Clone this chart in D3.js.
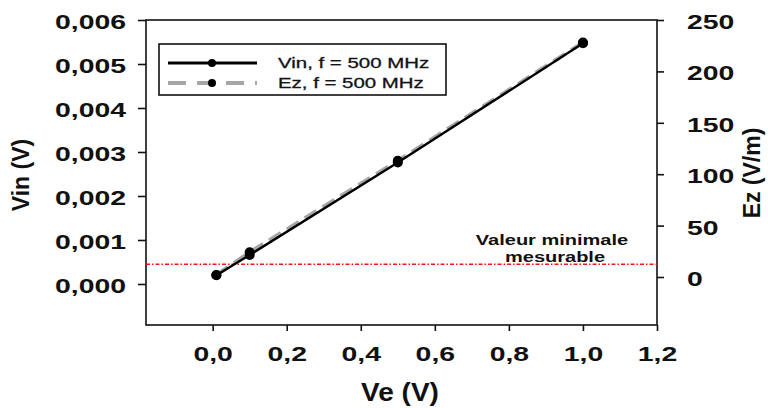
<!DOCTYPE html>
<html>
<head>
<meta charset="utf-8">
<script src="https://cdn.jsdelivr.net/npm/d3@7"></script>
<style>
  html, body { margin: 0; padding: 0; background: #fff; }
  svg { display: block; }
  text { font-family: "Liberation Sans", Arial, sans-serif; fill: #111; }
</style>
</head>
<body>
<svg id="chart" width="768" height="408"></svg>
<script>
// ---- data ----
const ve = [0.01, 0.1, 0.5, 1.0];               // Ve (V)
const vin = [0.0002, 0.00066, 0.00276, 0.00547]; // Vin (V), f = 500 MHz
const ez = [2, 24, 113, 228];                    // Ez (V/m), f = 500 MHz
const xTicks = [0, 0.2, 0.4, 0.6, 0.8, 1.0, 1.2];
const yLeftTicks = [0, 0.001, 0.002, 0.003, 0.004, 0.005, 0.006];
const yRightTicks = [0, 50, 100, 150, 200, 250];
const threshold = 0.00045;                       // valeur minimale mesurable (Vin)
const legendLabels = ["Vin, f = 500 MHz", "Ez, f = 500 MHz"];
const xTitle = "Ve (V)", yLeftTitle = "Vin (V)", yRightTitle = "Ez (V/m)";
const noteLines = ["Valeur minimale", "mesurable"];

// ---- layout ----
const L = 146, R = 657, T = 20, B = 325;
const SX = 1.42; // horizontal stretch of the reference's tick text

const svg = d3.select("#chart");

const x = d3.scaleLinear().domain([-0.18, 1.2]).range([L, R]);
const yL = d3.scaleLinear().domain([-0.000932, 0.006]).range([B, T]);
const yR = d3.scaleLinear().domain([-46.7, 250]).range([B, T]);

const comma = f => d => f(d).replace(".", ",");

// frame
svg.append("rect").attr("x", L).attr("y", T).attr("width", R - L).attr("height", B - T)
  .attr("fill", "none").attr("stroke", "#111").attr("stroke-width", 1.6);

// left axis
const gL = svg.append("g").attr("transform", `translate(${L},0)`)
  .call(d3.axisLeft(yL).tickValues(yLeftTicks).tickSize(8).tickSizeOuter(0).tickFormat(comma(d3.format(".3f"))));
gL.select(".domain").remove();
gL.selectAll(".tick line").attr("stroke", "#111").attr("stroke-width", 1.6);
gL.selectAll(".tick text")
  .attr("x", -20 / SX).attr("dy", "0.42em").attr("transform", `scale(${SX},1)`)
  .style("font-size", "20px").style("font-weight", "bold")
  .style("font-family", '"Liberation Sans", Arial, sans-serif').attr("fill", "#111");

// right axis
const gR = svg.append("g").attr("transform", `translate(${R},0)`)
  .call(d3.axisRight(yR).tickValues(yRightTicks).tickSize(7).tickSizeOuter(0).tickFormat(d3.format("d")));
gR.select(".domain").remove();
gR.selectAll(".tick line").attr("stroke", "#111").attr("stroke-width", 1.6);
gR.selectAll(".tick text")
  .attr("x", 30 / SX).attr("dy", "0.42em").attr("transform", `scale(${SX},1)`)
  .style("font-size", "20px").style("font-weight", "bold")
  .style("font-family", '"Liberation Sans", Arial, sans-serif').attr("fill", "#111");

// bottom axis
const gB = svg.append("g").attr("transform", `translate(0,${B})`)
  .call(d3.axisBottom(x).tickValues(xTicks).tickSize(6).tickSizeOuter(0).tickFormat(comma(d3.format(".1f"))));
gB.select(".domain").remove();
gB.selectAll(".tick line").attr("stroke", "#111").attr("stroke-width", 1.6);
gB.selectAll(".tick text")
  .attr("y", 22).attr("dy", "0.71em").attr("transform", `scale(${SX},1)`)
  .style("font-size", "20px").style("font-weight", "bold")
  .style("font-family", '"Liberation Sans", Arial, sans-serif').attr("fill", "#111");

// axis titles
svg.append("text").attr("transform", `translate(400,401) scale(1.12,1)`)
  .attr("text-anchor", "middle").style("font-size", "25px").style("font-weight", "bold").text(xTitle);
svg.append("text").attr("transform", `translate(29,175) rotate(-90)`)
  .attr("text-anchor", "middle").style("font-size", "23px").style("font-weight", "bold").text(yLeftTitle);
svg.append("text").attr("transform", `translate(760,173) rotate(-90)`)
  .attr("text-anchor", "middle").style("font-size", "23px").style("font-weight", "bold").text(yRightTitle);

// threshold line
svg.append("line").attr("x1", L).attr("x2", R).attr("y1", yL(threshold)).attr("y2", yL(threshold))
  .attr("stroke", "#f01818").attr("stroke-width", 1.6).attr("stroke-dasharray", "4,2,1.5,2");

// annotation
noteLines.forEach((t, i) => {
  svg.append("text").attr("transform", `translate(${552 + i * 3},${245 + i * 17}) scale(1.38,1)`)
    .attr("text-anchor", "middle").style("font-size", "14.5px").style("font-weight", "bold")
    .attr("fill", "#1a1a2a").text(t);
});

// series lines
const lineEz = d3.line().x((d, i) => x(ve[i])).y(d => yR(d));
const lineVin = d3.line().x((d, i) => x(ve[i])).y(d => yL(d));

svg.append("path").datum(ez).attr("d", lineEz).attr("fill", "none")
  .attr("stroke", "#a6a6a6").attr("stroke-width", 4).attr("stroke-dasharray", "14,7");
svg.append("path").datum(vin).attr("d", lineVin).attr("fill", "none")
  .attr("stroke", "#000").attr("stroke-width", 2.4);

svg.append("g").selectAll("circle").data(ez).join("circle")
  .attr("cx", (d, i) => x(ve[i])).attr("cy", d => yR(d)).attr("r", 5).attr("fill", "#000");
svg.append("g").selectAll("circle").data(vin).join("circle")
  .attr("cx", (d, i) => x(ve[i])).attr("cy", d => yL(d)).attr("r", 5).attr("fill", "#000");

// legend
const lg = svg.append("g");
lg.append("rect").attr("x", 159).attr("y", 44).attr("width", 287).attr("height", 51)
  .attr("fill", "#fff").attr("stroke", "#111").attr("stroke-width", 1.6);
const rows = [
  { y: 63, stroke: "#000", w: 3, dash: null },
  { y: 83, stroke: "#a6a6a6", w: 4, dash: "18,11" }
];
rows.forEach((r, i) => {
  lg.append("line").attr("x1", 168).attr("x2", 257).attr("y1", r.y).attr("y2", r.y)
    .attr("stroke", r.stroke).attr("stroke-width", r.w).attr("stroke-dasharray", r.dash);
  lg.append("circle").attr("cx", 212).attr("cy", r.y).attr("r", 4).attr("fill", "#000");
  lg.append("text").attr("transform", `translate(278,${r.y + 5}) scale(1.46,1)`)
    .style("font-size", "14px").style("stroke", "#1a1a2a").style("stroke-width", 0.3)
    .attr("fill", "#1a1a2a").text(legendLabels[i]);
});
</script>
</body>
</html>
